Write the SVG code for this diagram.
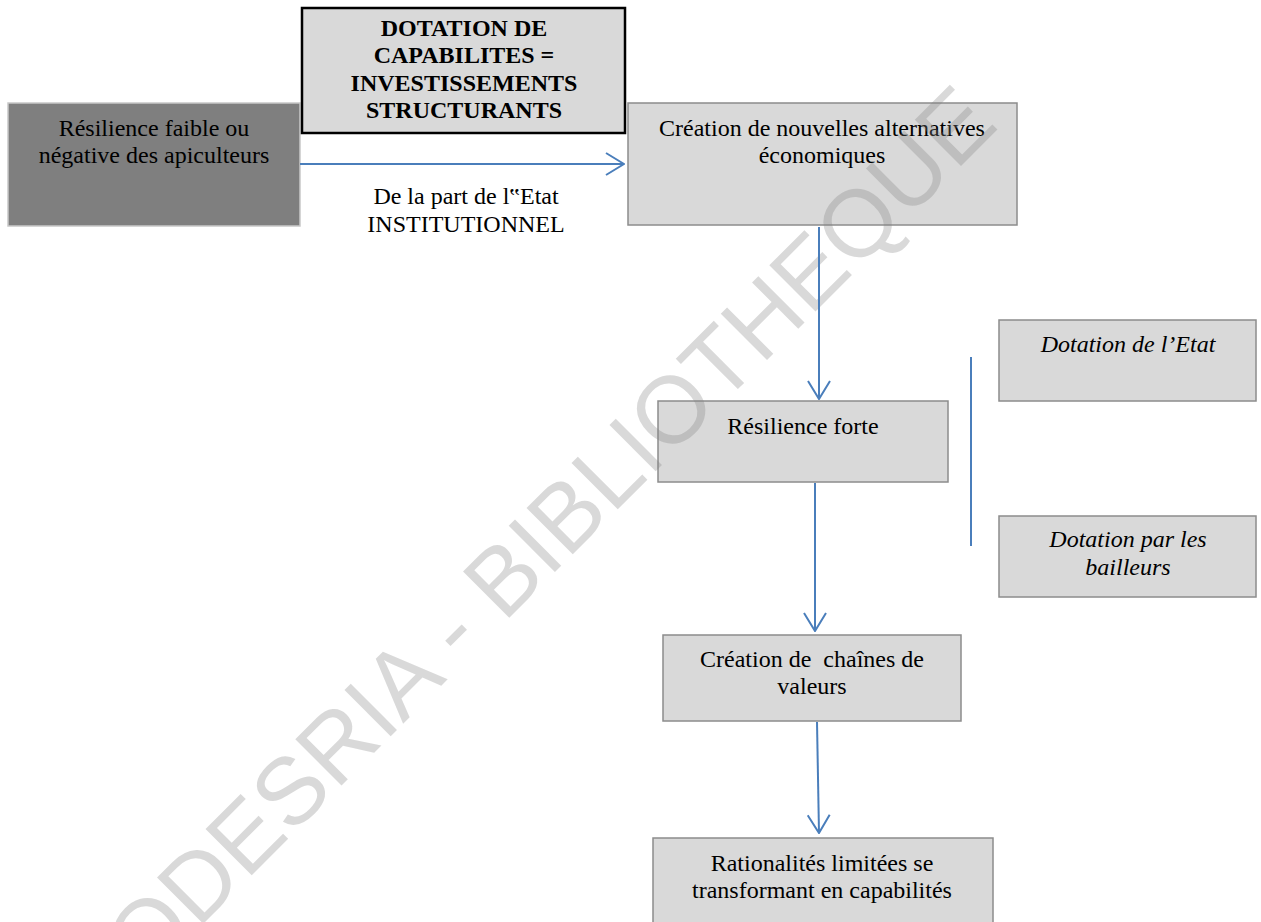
<svg xmlns="http://www.w3.org/2000/svg" width="1261" height="922" viewBox="0 0 1261 922">
<style>
.box{fill:#d9d9d9;stroke:#8c8c8c;stroke-width:1.5}
.dark{fill:#7f7f7f;stroke:#c8c8c8;stroke-width:1.5}
.bold{fill:#d9d9d9;stroke:#000;stroke-width:2.5}
.t{font-family:"Liberation Serif","Times New Roman",serif;font-size:24px;fill:#000;text-anchor:middle}
.tb{font-weight:bold}
.ti{font-style:italic}
.wm{font-family:"Liberation Sans",Arial,sans-serif;font-size:95px;fill:#808080;fill-opacity:0.3}
.c{stroke:#4a7ebb;stroke-width:2;fill:none}
</style>
<defs>
<marker id="arr" viewBox="0 0 20 24" markerWidth="20" markerHeight="24" refX="19" refY="12" orient="auto" markerUnits="userSpaceOnUse">
<path d="M1,1 L19,12 L1,23" fill="none" stroke="#4a7ebb" stroke-width="2"/>
</marker>
</defs>
<rect width="1261" height="922" fill="#fff"/>
<g id="n-faible">
<rect class="dark" x="8" y="103" width="292" height="123"/>
<text class="t" x="154" y="136">Résilience faible ou</text>
<text class="t" x="154" y="163">négative des apiculteurs</text>
</g>
<g id="n-dotation">
<rect class="bold" x="302" y="8" width="323" height="125"/>
<text class="t tb" x="464" y="36">DOTATION DE</text>
<text class="t tb" x="464" y="63">CAPABILITES =</text>
<text class="t tb" x="464" y="91">INVESTISSEMENTS</text>
<text class="t tb" x="464" y="118">STRUCTURANTS</text>
</g>
<g id="n-label">
<text class="t" x="466" y="204">De la part de l‟Etat</text>
<text class="t" x="466" y="232">INSTITUTIONNEL</text>
</g>
<g id="n-creation">
<rect class="box" x="628" y="103" width="389" height="122"/>
<text class="t" x="822" y="136">Création de nouvelles alternatives</text>
<text class="t" x="822" y="163">économiques</text>
</g>
<g id="n-etat">
<rect class="box" x="999" y="320" width="257" height="81"/>
<text class="t ti" x="1128" y="352">Dotation de l’Etat</text>
</g>
<g id="n-forte">
<rect class="box" x="658" y="401" width="290" height="81"/>
<text class="t" x="803" y="434">Résilience forte</text>
</g>
<g id="n-bailleurs">
<rect class="box" x="999" y="516" width="257" height="81"/>
<text class="t ti" x="1128" y="547">Dotation par les</text>
<text class="t ti" x="1128" y="575">bailleurs</text>
</g>
<g id="n-chaines">
<rect class="box" x="663" y="635" width="298" height="86"/>
<text class="t" x="812" y="667" xml:space="preserve">Création de  chaînes de</text>
<text class="t" x="812" y="694">valeurs</text>
</g>
<g id="n-rationalites">
<rect class="box" x="653" y="838" width="340" height="90"/>
<text class="t" x="822" y="871">Rationalités limitées se</text>
<text class="t" x="822" y="898">transformant en capabilités</text>
</g>
<text class="wm" transform="translate(97,1030) rotate(-45)">CODESRIA - BIBLIOTHEQUE</text>
<g id="connectors">
<line class="c" x1="300" y1="164" x2="624" y2="164" marker-end="url(#arr)"/>
<line class="c" x1="819" y1="227" x2="819" y2="399" marker-end="url(#arr)"/>
<line class="c" x1="815" y1="483" x2="815" y2="631" marker-end="url(#arr)"/>
<line class="c" x1="817" y1="722" x2="819" y2="833" marker-end="url(#arr)"/>
<line class="c" x1="971" y1="357" x2="971" y2="546"/>
</g>
</svg>
